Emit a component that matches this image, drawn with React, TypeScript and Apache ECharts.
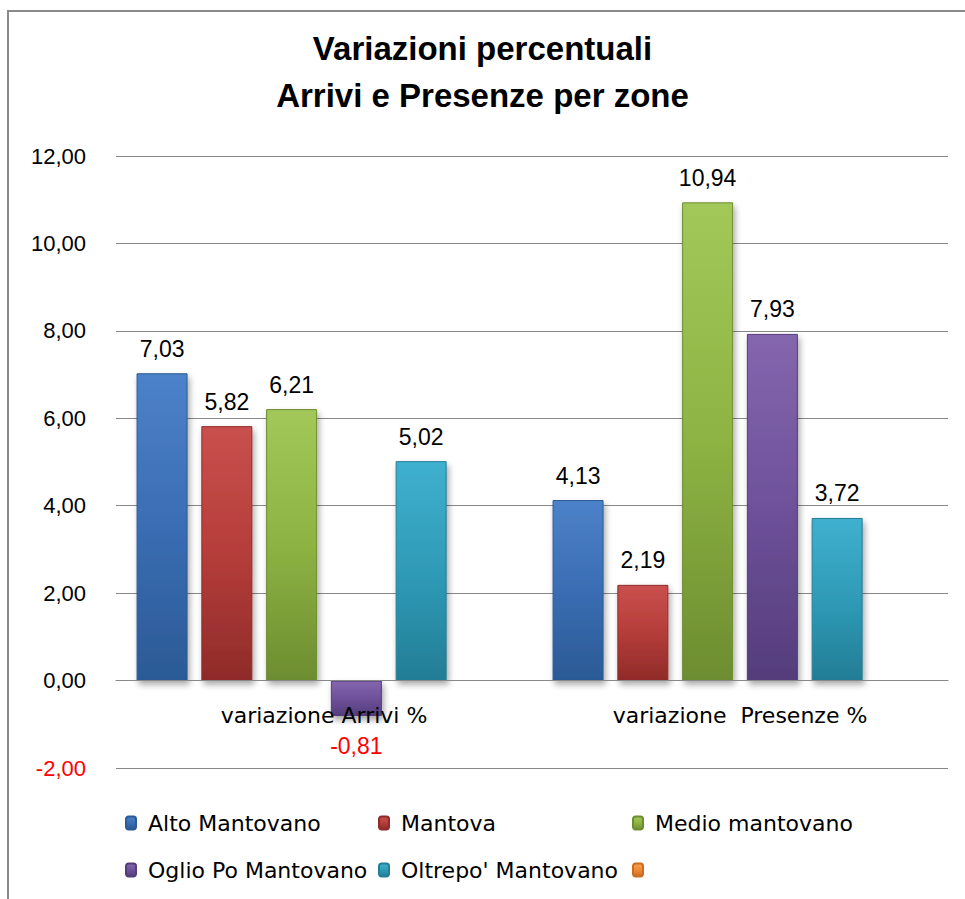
import React, { useEffect, useRef } from "react";
import * as echarts from "echarts";

const categories = ["variazione Arrivi %", "variazione  Presenze %"];
const seriesNames = [
  "Alto Mantovano",
  "Mantova",
  "Medio mantovano",
  "Oglio Po Mantovano",
  "Oltrepo' Mantovano",
  " ",
];
const altoMantovano = [7.03, 4.13];
const mantova = [5.82, 2.19];
const medioMantovano = [6.21, 10.94];
const oglioPoMantovano = [-0.81, 7.93];
const oltrepoMantovano = [5.02, 3.72];
const emptySeries: (number | null)[] = [null, null];
const yMin = -2;
const yMax = 12;
const yInterval = 2;

const allValues = [altoMantovano, mantova, medioMantovano, oglioPoMantovano, oltrepoMantovano, emptySeries];

const palette = [
  ["#4c82c9", "#3a6db3", "#2b5a95"],
  ["#c9504d", "#b53d3a", "#8f2b29"],
  ["#a2c85a", "#8db343", "#6d8d30"],
  ["#8466ae", "#6e519a", "#543d7b"],
  ["#3fb0cf", "#2f9bb7", "#237d95"],
  ["#f9a05a", "#f08a36", "#c96d20"],
];

const legendPos = [
  [125, 812],
  [378, 812],
  [632, 812],
  [125, 859],
  [378, 859],
  [632, 859],
];

const fmt = (v: number) => v.toFixed(2).replace(".", ",");

export default function App() {
  const ref = useRef<HTMLDivElement>(null);
  useEffect(() => {
    document.body.style.margin = "0";
    if (!ref.current) return;
    const chart = echarts.init(ref.current, undefined, { renderer: "svg" });
    const numFont = "'Liberation Sans', Arial, sans-serif";
    const txtFont = "'DejaVu Sans', sans-serif";
    const grad = (c: string[]) =>
      new echarts.graphic.LinearGradient(0, 0, 0, 1, [
        { offset: 0, color: c[0] },
        { offset: 0.5, color: c[1] },
        { offset: 1, color: c[2] },
      ]);
    const option: any = {
      animation: false,
      backgroundColor: "#ffffff",
      title: {
        text: "Variazioni percentuali\nArrivi e Presenze per zone",
        left: "center",
        top: 20,
        textStyle: {
          fontFamily: numFont,
          fontWeight: "bold",
          fontSize: 33,
          lineHeight: 47,
          color: "#000",
        },
      },
      graphic: [
        {
          type: "rect",
          shape: { x: 8, y: 11, width: 1100, height: 1100 },
          style: { fill: "none", stroke: "#8a8a8a", lineWidth: 2 },
          silent: true,
        },
      ],
      legend: seriesNames.map((n, i) => ({
        left: legendPos[i][0],
        top: legendPos[i][1],
        padding: 0,
        itemWidth: 10,
        itemHeight: 13,
        data: [n],
        textStyle: {
          fontFamily: txtFont,
          fontSize: 22,
          color: "#000",
          padding: [0, 0, 0, 7],
        },
      })),
      grid: { left: 116, right: 17, top: 156, bottom: 131, containLabel: false },
      xAxis: {
        type: "category",
        data: categories,
        z: 5,
        axisLine: { onZero: true, lineStyle: { color: "#888", width: 1 } },
        axisTick: { show: false },
        axisLabel: {
          fontFamily: txtFont,
          fontSize: 22,
          color: "#000",
          margin: -64,
        },
      },
      yAxis: {
        type: "value",
        min: yMin,
        max: yMax,
        interval: yInterval,
        axisLine: { show: false },
        axisTick: { show: false },
        splitLine: { lineStyle: { color: "#888", width: 1 } },
        axisLabel: {
          fontFamily: numFont,
          fontSize: 22,
          margin: 30,
          formatter: (v: number) => fmt(v),
          color: (v: any) => (Number(v) < 0 ? "#ff0000" : "#000"),
        },
      },
      series: seriesNames.map((n, i) => ({
        name: n,
        type: "bar",
        barWidth: 51,
        barGap: "27%",
        itemStyle: {
          color: grad(palette[i]),
          borderColor: palette[i][2],
          borderWidth: 1,
          shadowColor: "rgba(0,0,0,0.35)",
          shadowBlur: 6,
          shadowOffsetX: 2,
          shadowOffsetY: 4,
        },
        label: {
          show: true,
          position: "top",
          distance: 13,
          fontFamily: numFont,
          fontSize: 23,
          color: "#000",
          formatter: (p: any) => (p.value == null ? "" : fmt(p.value)),
        },
        data: allValues[i].map((v) =>
          v != null && v < 0
            ? { value: v, label: { position: "bottom", color: "#ff0000", distance: 19 } }
            : v
        ),
      })),
    };
    chart.setOption(option);
    return () => chart.dispose();
  }, []);
  return <div ref={ref} style={{ width: 965, height: 899 }} />;
}
